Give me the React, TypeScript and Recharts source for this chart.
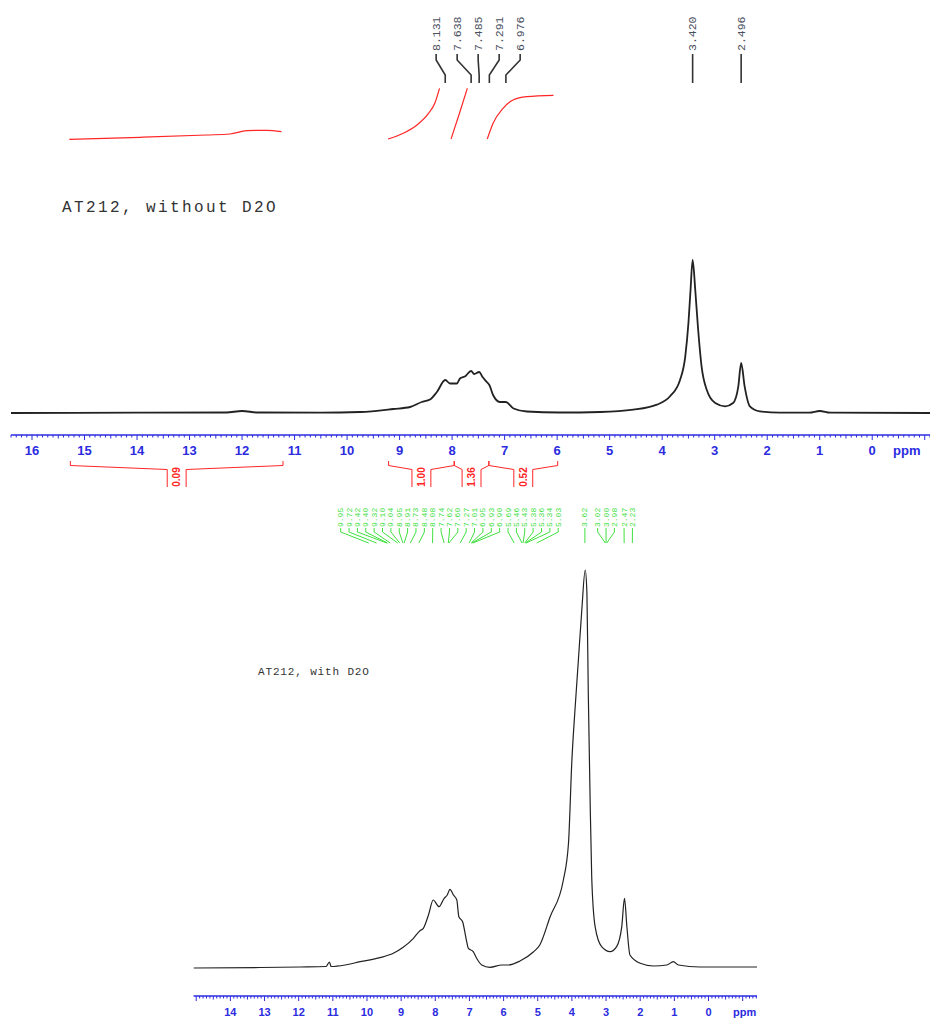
import { ComposedChart, Line, Scatter, XAxis, YAxis } from "recharts";

const BLUE = "#2b2be0";
const RED = "#ff2626";
const GREEN = "#40e040";
const INK = "#222";

// spectrum 1: AT212 without D2O (intensity in arbitrary units)
const topPpm = [16.4, 14.0, 12.3, 12.0, 11.7, 10.5, 9.75, 9.12, 8.8, 8.58, 8.42, 8.29, 8.131, 8.04, 7.91, 7.85, 7.75, 7.638, 7.58, 7.485, 7.42, 7.34, 7.291, 7.22, 7.09, 6.976, 6.83, 6.58, 5.95, 5.18, 4.55, 4.1, 3.85, 3.66, 3.56, 3.5, 3.46, 3.42, 3.37, 3.32, 3.25, 3.15, 2.99, 2.8, 2.65, 2.55, 2.496, 2.43, 2.33, 2.14, 1.76, 1.2, 1.0, 0.8, -1.1];
const topIntensity = [0, 0.3, 0.5, 2, 0.5, 0.3, 1, 4, 6, 11, 13.5, 21, 33, 29.5, 29.5, 34.5, 36.8, 42, 39, 41, 36, 31, 28, 18, 11, 11, 4.5, 1.5, 0.5, 1, 3.3, 8.3, 16.7, 33, 56.7, 90, 123, 153, 123, 86.7, 46.7, 23, 10, 6.7, 10, 26.7, 50, 26.7, 6.7, 1.7, 0.3, 0.3, 2, 0.3, 0];

// integral traces drawn over spectrum 1
const integ1Ppm = [15.29, 13.94, 12.67, 12.23, 11.91, 11.53, 11.25];
const integ1Val = [273.7, 275.7, 278, 279, 282.3, 282.7, 281.3];
const integ2Ppm = [9.22, 8.93, 8.67, 8.45, 8.33, 8.24];
const integ2Val = [274, 279.7, 288, 299.7, 309.7, 324.7];
const integ3Ppm = [8.02, 7.86, 7.71];
const integ3Val = [274, 299.7, 324.7];
const integ4Ppm = [7.33, 7.22, 7.03, 6.84, 6.58, 6.07];
const integ4Val = [274, 289.7, 304.7, 313, 316.3, 317.7];

// integration ranges under the top axis
const bracketFrom = [15.27, 9.21, 7.96, 7.3];
const bracketTo = [11.22, 7.96, 7.3, 5.99];
const bracketValue = ["0.09", "1.00", "1.36", "0.52"];

// picked peaks, spectrum 1
const topPeaks = [8.131, 7.638, 7.485, 7.291, 6.976, 3.42, 2.496];

// spectrum 2: AT212 with D2O
const botPpm = [15.08, 13.13, 11.96, 11.2, 11.1, 11.05, 10.64, 10.2, 9.62, 9.23, 8.94, 8.64, 8.45, 8.35, 8.2, 8.06, 7.89, 7.74, 7.65, 7.57, 7.47, 7.37, 7.31, 7.2, 7.1, 7.03, 6.89, 6.79, 6.64, 6.4, 6.05, 5.86, 5.52, 5.13, 4.94, 4.64, 4.25, 4.1, 4.0, 3.91, 3.81, 3.71, 3.61, 3.56, 3.52, 3.47, 3.42, 3.32, 3.13, 2.88, 2.69, 2.54, 2.46, 2.39, 2.3, 2.0, 1.61, 1.22, 1.03, 0.88, 0.25, -1.42];
const botIntensity = [0, 0.5, 1, 1.5, 6, 1.5, 3, 6.3, 10.3, 14.7, 20.7, 29.7, 37.3, 39.7, 53, 68, 61.3, 69.7, 73, 78.7, 73, 68, 51.3, 46.3, 29.7, 19.7, 16.3, 9.7, 3, 0.7, 3, 3, 7, 16, 23, 51, 88, 124.7, 208, 258, 308, 358, 398, 374.7, 274.7, 174.7, 91.3, 41.3, 21.3, 16.3, 21.3, 41.3, 69.7, 41.3, 13, 4.7, 2, 3, 6.3, 3, 1, 1];

// picked peaks, spectrum 2
const botPeaks = [9.95, 9.72, 9.42, 9.4, 9.32, 9.1, 9.04, 8.95, 8.91, 8.73, 8.48, 8.08, 7.74, 7.62, 7.6, 7.27, 7.01, 6.95, 6.93, 6.9, 5.69, 5.46, 5.43, 5.38, 5.36, 5.34, 5.03, 3.62, 3.02, 3.0, 2.98, 2.47, 2.23];

const topAxisLabels = [16, 15, 14, 13, 12, 11, 10, 9, 8, 7, 6, 5, 4, 3, 2, 1, 0];
const botAxisLabels = [14, 13, 12, 11, 10, 9, 8, 7, 6, 5, 4, 3, 2, 1, 0];

const TOP_DOMAIN: [number, number] = [-1.1, 16.4];
const BOT_DOMAIN: [number, number] = [-1.42, 15.08];

const zip = (xs: number[], ys: number[]) => xs.map((ppm, i) => ({ ppm, v: ys[i] }));

// spread peak labels so they don't overlap, groups centred on their peaks
function spreadLabels(peaks: number[], gap: number) {
  const groups = [...peaks].sort((a, b) => b - a).map((p) => ({ items: [p], c: p }));
  let merged = true;
  while (merged) {
    merged = false;
    for (let i = 0; i < groups.length - 1; i++) {
      const a = groups[i];
      const b = groups[i + 1];
      const aLast = a.c - ((a.items.length - 1) / 2) * gap;
      const bFirst = b.c + ((b.items.length - 1) / 2) * gap;
      if (aLast - bFirst < gap - 1e-9) {
        const items = [...a.items, ...b.items];
        groups.splice(i, 2, { items, c: items.reduce((s, x) => s + x, 0) / items.length });
        merged = true;
        break;
      }
    }
  }
  const out: { peak: number; at: number }[] = [];
  groups.forEach((g) =>
    g.items.forEach((p, k) => out.push({ peak: p, at: g.c + ((g.items.length - 1) / 2 - k) * gap }))
  );
  return out;
}

function tenthTicks([lo, hi]: [number, number]) {
  const t: number[] = [];
  for (let i = Math.ceil(lo * 10); i <= Math.floor(hi * 10); i++) t.push(i / 10);
  return t;
}

const makeTick = (labels: number[], fontSize: number) => (props: any) => {
  const { x, y, payload } = props;
  const k = Math.round(payload.value * 10);
  const major = k % 10 === 0;
  const half = k % 5 === 0;
  const len = major ? 5 : half ? 3.5 : 2.5;
  const v = k / 10;
  return (
    <g>
      <line x1={x} x2={x} y1={y} y2={y + len} stroke={BLUE} strokeWidth={1} />
      {major && labels.includes(v) && (
        <text
          x={x}
          y={y + 20}
          textAnchor="middle"
          fill={BLUE}
          fontSize={fontSize}
          fontWeight="bold"
          fontFamily="Liberation Sans, Arial, sans-serif"
        >
          {v}
        </text>
      )}
    </g>
  );
};

const ppmLabel = (dx: number, fontSize: number) => (props: any) => {
  const vb = props.viewBox;
  return (
    <text
      x={vb.x + vb.width - dx}
      y={vb.y + 20}
      fill={BLUE}
      fontSize={fontSize}
      fontWeight="bold"
      fontFamily="Liberation Sans, Arial, sans-serif"
    >
      ppm
    </text>
  );
};

const rotatedText = (color: string, fontSize: number, family: string, anchor: string, bold = false) =>
  (p: any) => (
    <text
      transform={`translate(${p.cx},${p.cy}) rotate(-90)`}
      textAnchor={anchor}
      dominantBaseline="central"
      fill={color}
      fontSize={fontSize}
      fontFamily={family}
      fontWeight={bold ? "bold" : "normal"}
    >
      {p.payload.text}
    </text>
  );

export default function App() {
  const topLabels = spreadLabels(topPeaks, 0.4);
  const botLabels = spreadLabels(botPeaks, 0.245);

  const topLeaders = topLabels.map((l) => [
    { ppm: l.at, v: 359 },
    { ppm: l.at, v: 353 },
    { ppm: l.peak, v: 338 },
    { ppm: l.peak, v: 330 },
  ]);
  const topText = topLabels.map((l) => ({ ppm: l.at, v: 362, text: l.peak.toFixed(3) }));

  const botLeaders = botLabels.map((l) => [
    { ppm: l.at, v: 440 },
    { ppm: l.at, v: 436 },
    { ppm: l.peak, v: 425 },
  ]);
  const botText = botLabels.map((l) => ({ ppm: l.at, v: 441, text: l.peak.toFixed(2) }));

  const integrals = [
    zip(integ1Ppm, integ1Val),
    zip(integ2Ppm, integ2Val),
    zip(integ3Ppm, integ3Val),
    zip(integ4Ppm, integ4Val),
  ];

  const half = 0.18;
  const brackets = bracketFrom.flatMap((from, i) => {
    const to = bracketTo[i];
    const m = (from + to) / 2;
    return [
      [
        { ppm: from, v: 34 },
        { ppm: from, v: 29.5 },
        { ppm: m + half, v: 25.5 },
        { ppm: m + half, v: 8 },
      ],
      [
        { ppm: m - half, v: 8 },
        { ppm: m - half, v: 25.5 },
        { ppm: to, v: 29.5 },
        { ppm: to, v: 34 },
      ],
    ];
  });
  const bracketText = bracketFrom.map((from, i) => ({
    ppm: (from + bracketTo[i]) / 2,
    v: 18,
    text: bracketValue[i],
  }));

  return (
    <div style={{ position: "absolute", left: 0, top: 0, width: 930, height: 1021, background: "#fff" }}>
      {/* top spectrum */}
      <div style={{ position: "absolute", left: 0, top: 0 }}>
        <ComposedChart width={930} height={460} margin={{ top: 0, right: 0, bottom: 0, left: 11 }}>
          <XAxis
            type="number"
            dataKey="ppm"
            domain={TOP_DOMAIN}
            reversed
            allowDataOverflow
            ticks={tenthTicks(TOP_DOMAIN)}
            interval={0}
            tick={makeTick(topAxisLabels, 13)}
            tickLine={false}
            tickSize={0}
            tickMargin={0}
            axisLine={{ stroke: BLUE, strokeWidth: 1.5 }}
            height={25}
            label={{ content: ppmLabel(37, 13) }}
          />
          <YAxis hide type="number" dataKey="v" domain={[-22, 413]} allowDataOverflow />
          <Line
            data={zip(topPpm, topIntensity)}
            dataKey="v"
            type="monotone"
            stroke={INK}
            strokeWidth={1.8}
            dot={false}
            isAnimationActive={false}
          />
          {integrals.map((d, i) => (
            <Line
              key={`int${i}`}
              data={d}
              dataKey="v"
              type="monotone"
              stroke={RED}
              strokeWidth={1.2}
              dot={false}
              isAnimationActive={false}
            />
          ))}
          {topLeaders.map((d, i) => (
            <Line
              key={`tl${i}`}
              data={d}
              dataKey="v"
              type="linear"
              stroke="#333"
              strokeWidth={1.6}
              dot={false}
              isAnimationActive={false}
            />
          ))}
          <Scatter
            data={topText}
            dataKey="v"
            isAnimationActive={false}
            shape={rotatedText("#4a4f5e", 11.5, "Liberation Mono, monospace", "start")}
          />
        </ComposedChart>
      </div>

      {/* integration brackets */}
      <div style={{ position: "absolute", left: 0, top: 455 }}>
        <ComposedChart width={930} height={40} margin={{ top: 0, right: 0, bottom: 0, left: 11 }}>
          <XAxis hide type="number" dataKey="ppm" domain={TOP_DOMAIN} reversed allowDataOverflow />
          <YAxis hide type="number" dataKey="v" domain={[0, 40]} allowDataOverflow />
          {brackets.map((d, i) => (
            <Line
              key={`br${i}`}
              data={d}
              dataKey="v"
              type="linear"
              stroke={RED}
              strokeWidth={1}
              dot={false}
              isAnimationActive={false}
            />
          ))}
          <Scatter
            data={bracketText}
            dataKey="v"
            isAnimationActive={false}
            shape={rotatedText(RED, 10, "Liberation Sans Narrow, Arial Narrow, sans-serif", "middle", true)}
          />
        </ComposedChart>
      </div>

      {/* bottom spectrum */}
      <div style={{ position: "absolute", left: 0, top: 500 }}>
        <ComposedChart width={930} height={521} margin={{ top: 0, right: 173, bottom: 0, left: 193.5 }}>
          <XAxis
            type="number"
            dataKey="ppm"
            domain={BOT_DOMAIN}
            reversed
            allowDataOverflow
            ticks={tenthTicks(BOT_DOMAIN)}
            interval={0}
            tick={makeTick(botAxisLabels, 11)}
            tickLine={false}
            tickSize={0}
            tickMargin={0}
            axisLine={{ stroke: BLUE, strokeWidth: 1.5 }}
            height={25}
            label={{ content: ppmLabel(24, 11) }}
          />
          <YAxis hide type="number" dataKey="v" domain={[-28, 468]} allowDataOverflow />
          <Line
            data={zip(botPpm, botIntensity)}
            dataKey="v"
            type="monotone"
            stroke={INK}
            strokeWidth={1.2}
            dot={false}
            isAnimationActive={false}
          />
          {botLeaders.map((d, i) => (
            <Line
              key={`bl${i}`}
              data={d}
              dataKey="v"
              type="linear"
              stroke={GREEN}
              strokeWidth={1}
              dot={false}
              isAnimationActive={false}
            />
          ))}
          <Scatter
            data={botText}
            dataKey="v"
            isAnimationActive={false}
            shape={rotatedText(GREEN, 8, "Liberation Mono, monospace", "start")}
          />
        </ComposedChart>
      </div>

      <div
        style={{
          position: "absolute",
          left: 62,
          top: 200,
          fontFamily: "Liberation Mono, monospace",
          fontSize: 16,
          lineHeight: "16px",
          letterSpacing: 2.4,
          color: "#333",
          whiteSpace: "nowrap",
        }}
      >
        AT212, without D2O
      </div>
      <div
        style={{
          position: "absolute",
          left: 258,
          top: 667,
          fontFamily: "Liberation Mono, monospace",
          fontSize: 11,
          lineHeight: "11px",
          letterSpacing: 0.85,
          color: "#333",
          whiteSpace: "nowrap",
        }}
      >
        AT212, with D2O
      </div>
    </div>
  );
}
